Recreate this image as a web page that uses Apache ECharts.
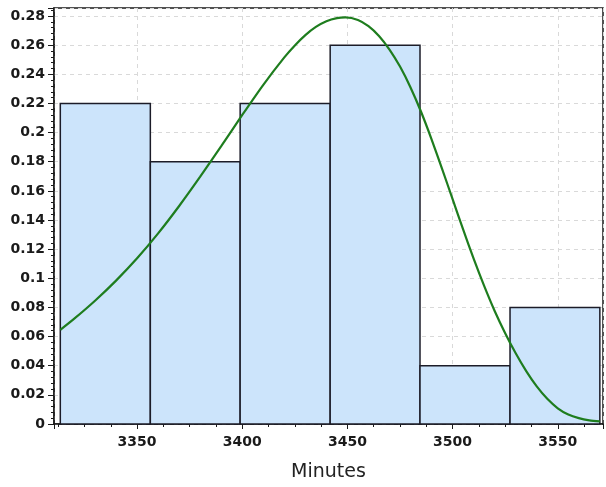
<!DOCTYPE html>
<html>
<head>
<meta charset="utf-8">
<script src="https://cdn.jsdelivr.net/npm/echarts@6/dist/echarts.min.js"></script>
<style>
  html, body { margin: 0; padding: 0; background: #fff; }
  #chart { width: 606px; height: 487px; }
</style>
</head>
<body>
<div id="chart"></div>
<script>
// histogram bins (minutes) and relative frequency
const binStart = [3313.5, 3356.3, 3399.0, 3441.8, 3484.5, 3527.3]
const binEnd   = [3356.3, 3399.0, 3441.8, 3484.5, 3527.3, 3570.0]
const binFreq  = [0.22, 0.18, 0.22, 0.26, 0.04, 0.08]

// fitted density curve
const curveX = [3313.5, 3320, 3330, 3340, 3350, 3360, 3370, 3380, 3390, 3400,
  3410, 3420, 3425, 3430, 3435, 3440, 3445, 3449, 3455, 3460,
  3465, 3470, 3475, 3480, 3485, 3490, 3495, 3500, 3505, 3510,
  3515, 3520, 3525, 3530, 3535, 3540, 3545, 3550, 3555, 3560,
  3565, 3570]
const curveY = [0.0646, 0.0721, 0.0846, 0.0984, 0.1137, 0.1308, 0.1496, 0.1697, 0.1907, 0.2121,
  0.2328, 0.2516, 0.2598, 0.2669, 0.2725, 0.2764, 0.2785, 0.2790, 0.2773, 0.2730,
  0.2663, 0.2570, 0.2453, 0.2310, 0.2143, 0.1954, 0.1751, 0.1543, 0.1335, 0.1135,
  0.0948, 0.0776, 0.0623, 0.0485, 0.0363, 0.0258, 0.0173, 0.0108, 0.0065, 0.0040,
  0.0025, 0.0018]

const X_MIN = 3310.5
const X_MAX = 3571.5
const Y_MAX = 0.2855

const chart = echarts.init(document.getElementById('chart'), null, { renderer: 'canvas' })

const labelFont = { fontFamily: 'DejaVu Sans', fontWeight: 'bold', fontSize: 14, color: '#1a1a1a' }
const gridLine = { show: true, lineStyle: { color: '#d9d9d9', type: [4, 4], width: 1 } }

chart.setOption({
  animation: false,
  backgroundColor: '#fff',
  grid: {
    left: 54, right: 3, top: 8, bottom: 62,
    show: true, borderColor: '#1a1a1a', borderWidth: 1.5, backgroundColor: 'transparent',
  },
  xAxis: {
    type: 'value',
    min: X_MIN,
    max: X_MAX,
    splitNumber: 5,
    name: 'Minutes',
    nameLocation: 'middle',
    nameGap: 39,
    nameTextStyle: { fontFamily: 'DejaVu Sans', fontSize: 19, color: '#222' },
    axisLine: { show: true, onZero: false, lineStyle: { color: '#1a1a1a', width: 1.5 } },
    axisTick: { show: true, length: 5, lineStyle: { color: '#1a1a1a' } },
    minorTick: { show: true, splitNumber: 4, length: 3, lineStyle: { color: '#1a1a1a' } },
    axisLabel: {
      ...labelFont, margin: 11, showMinLabel: false, showMaxLabel: false,
      formatter: (v) => String(Math.round(v)),
    },
    splitLine: gridLine,
  },
  yAxis: {
    type: 'value',
    min: 0,
    max: Y_MAX,
    interval: 0.02,
    axisLine: { show: true, lineStyle: { color: '#1a1a1a', width: 1.5 } },
    axisTick: { show: true, length: 6, lineStyle: { color: '#1a1a1a' } },
    minorTick: { show: true, splitNumber: 5, length: 3, lineStyle: { color: '#1a1a1a' } },
    axisLabel: {
      ...labelFont, margin: 9, showMaxLabel: false,
      formatter: (v) => String(Math.round(v * 100) / 100),
    },
    splitLine: gridLine,
  },
  series: [
    {
      type: 'custom',
      renderItem: (params, api) => {
        const p0 = api.coord([api.value(0), api.value(2)])
        const p1 = api.coord([api.value(1), 0])
        return {
          type: 'rect',
          shape: { x: p0[0], y: p0[1], width: p1[0] - p0[0], height: p1[1] - p0[1] },
          style: { fill: '#cce4fb', stroke: '#1c1c28', lineWidth: 1.5 },
        }
      },
      encode: { x: [0, 1], y: 2 },
      data: binStart.map((s, i) => [s, binEnd[i], binFreq[i]]),
      z: 2,
    },
    {
      type: 'line',
      smooth: 0.25,
      showSymbol: false,
      lineStyle: { color: '#1e7d1e', width: 2.2 },
      data: curveX.map((x, i) => [x, curveY[i]]),
      z: 3,
    },
  ],
})
</script>
</body>
</html>
